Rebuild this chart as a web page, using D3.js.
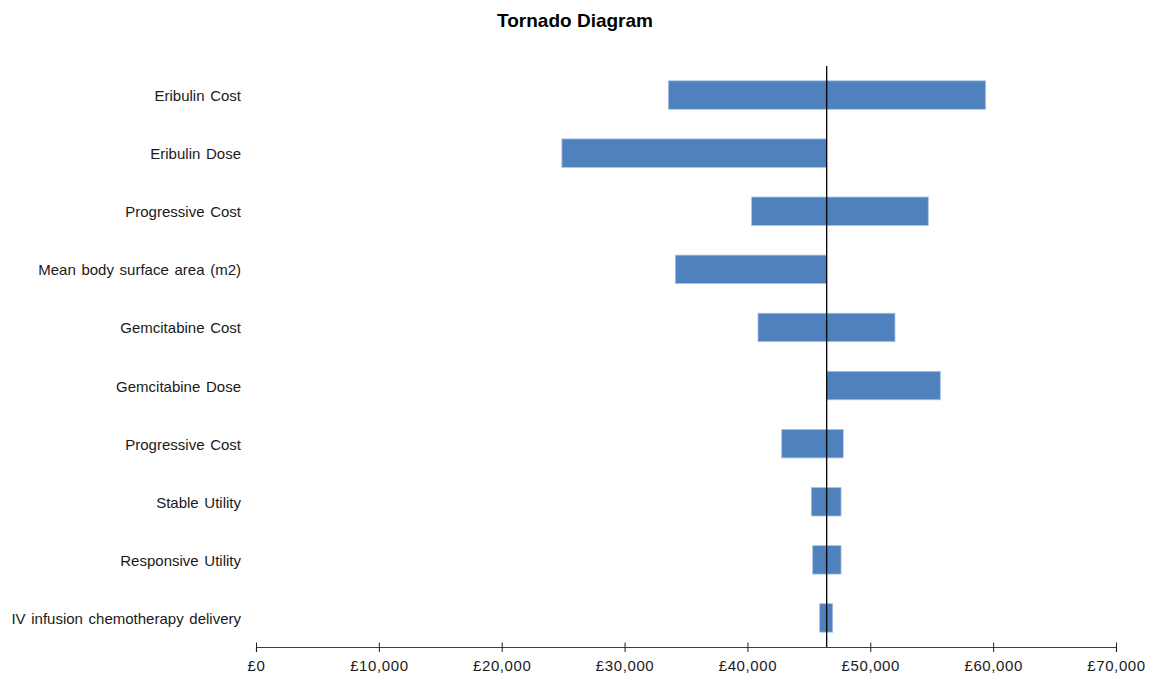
<!DOCTYPE html>
<html>
<head>
<meta charset="utf-8">
<script src="https://cdn.jsdelivr.net/npm/d3@7"></script>
<style>
  html, body { margin: 0; padding: 0; background: #fff; }
  svg { display: block; font-family: "Liberation Sans", Arial, sans-serif; }
</style>
</head>
<body>
<svg id="chart" width="1152" height="684"></svg>
<script>
// Sensitivity parameters, top to bottom
const categories = [
  "Eribulin Cost",
  "Eribulin Dose",
  "Progressive Cost",
  "Mean body surface area (m2)",
  "Gemcitabine Cost",
  "Gemcitabine Dose",
  "Progressive Cost",
  "Stable Utility",
  "Responsive Utility",
  "IV infusion chemotherapy delivery"
];
// Base-case result (£)
const baseValue = 46450;
// Lower and upper ends of each bar (£)
const lowValues  = [33560, 24900, 40340, 34130, 40860, 46450, 42790, 45200, 45310, 45880];
const highValues = [59390, 46450, 54720, 46450, 52010, 55700, 47800, 47620, 47620, 46940];
// Axis ticks (£)
const tickValues = [0, 10000, 20000, 30000, 40000, 50000, 60000, 70000];

const svg = d3.select("#chart");

const x = d3.scaleLinear().domain([0, 70000]).range([256, 1116]);
const y = d3.scaleBand()
  .domain(d3.range(categories.length))
  .range([66, 647])
  .paddingInner(0.51)
  .paddingOuter(0.255);

const rows = categories.map((c, i) => ({ i, name: c, low: lowValues[i], high: highValues[i] }));

// Title
svg.append("text")
  .attr("x", 575).attr("y", 27)
  .attr("text-anchor", "middle")
  .attr("font-size", 19).attr("font-weight", "bold")
  .attr("fill", "#000")
  .text("Tornado Diagram");

// Bars
svg.append("g").selectAll("rect")
  .data(rows)
  .join("rect")
  .attr("x", d => x(Math.min(d.low, d.high)))
  .attr("y", d => y(d.i))
  .attr("width", d => Math.abs(x(d.high) - x(d.low)))
  .attr("height", y.bandwidth())
  .attr("fill", "#4F81BD")
  .attr("stroke", "#a9c3e3")
  .attr("stroke-width", 0.8);

// Category labels
const yAxis = d3.axisLeft(y)
  .tickSize(0)
  .tickPadding(15)
  .tickFormat(i => categories[i]);
const gy = svg.append("g").attr("transform", "translate(256,0)").call(yAxis);
gy.select(".domain").remove();
gy.selectAll("text")
  .attr("font-size", 15)
  .attr("word-spacing", 1.5)
  .attr("dy", "0.4em")
  .attr("font-family", "'Liberation Sans', Arial, sans-serif")
  .attr("fill", "#1a1a1a");

// Value axis
const xAxis = d3.axisBottom(x)
  .tickValues(tickValues)
  .tickSizeOuter(0)
  .tickSize(5)
  .tickPadding(8)
  .tickFormat(d => "£" + d3.format(",")(d));
const gx = svg.append("g").attr("transform", "translate(0,647)").call(xAxis);
gx.select(".domain").attr("stroke", "#404040").attr("stroke-width", 1.2);
gx.selectAll(".tick line").attr("y1", -4.5).attr("y2", 5).attr("stroke", "#202020");
gx.selectAll(".tick text")
  .attr("font-size", 15)
  .attr("letter-spacing", 0.6)
  .attr("font-family", "'Liberation Sans', Arial, sans-serif")
  .attr("fill", "#1a1a1a");

// Base-case reference line
svg.append("line")
  .attr("x1", x(baseValue)).attr("x2", x(baseValue))
  .attr("y1", 66).attr("y2", 647)
  .attr("stroke", "#000")
  .attr("stroke-width", 1.3);
</script>
</body>
</html>
